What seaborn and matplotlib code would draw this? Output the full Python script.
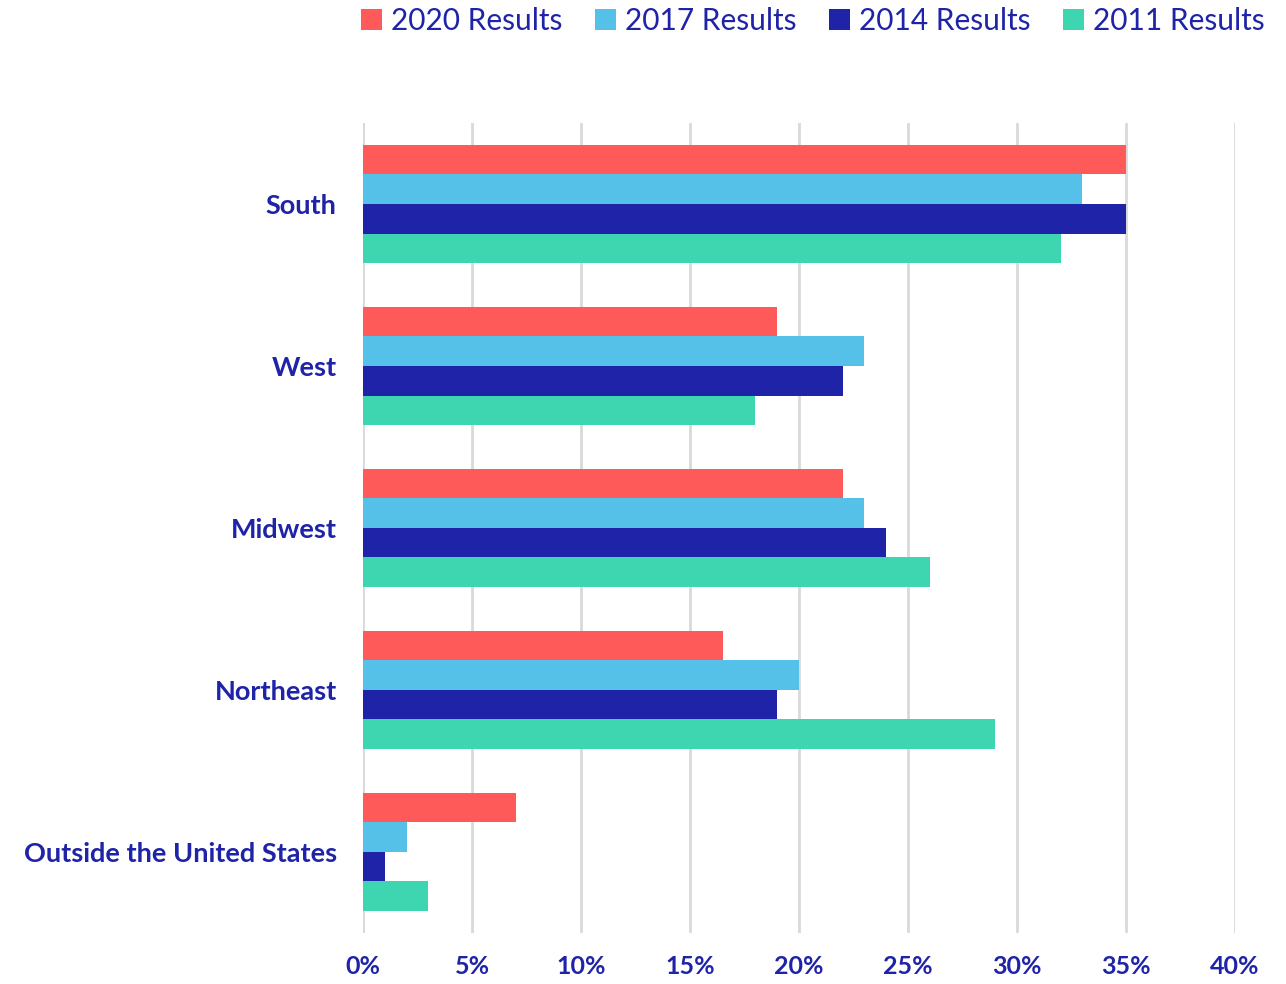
import matplotlib.pyplot as plt
import matplotlib.ticker as mtick
import pandas as pd
import seaborn as sns

regions = ['South', 'West', 'Midwest', 'Northeast', 'Outside the United States']
years = ['2020 Results', '2017 Results', '2014 Results', '2011 Results']
results_2020 = [35, 19, 22, 16.5, 7]
results_2017 = [33, 23, 23, 20, 2]
results_2014 = [35, 22, 24, 19, 1]
results_2011 = [32, 18, 26, 29, 3]

bar_colors = ['#ff5a5a', '#56c1e8', '#1f23a8', '#3dd6b0']
text_color = '#1f23a8'

rows = []
for year, vals in zip(years, [results_2020, results_2017, results_2014, results_2011]):
    for reg, v in zip(regions, vals):
        rows.append({'Region': reg, 'Year': year, 'Share': v})
df = pd.DataFrame(rows)

sns.set_theme(style='white')
plt.rcParams['font.family'] = ['Lato', 'DejaVu Sans']

fig, ax = plt.subplots(figsize=(12.86, 9.84), dpi=100)
fig.subplots_adjust(left=0.2823, right=0.9603, top=0.875, bottom=0.052)

sns.barplot(data=df, y='Region', x='Share', hue='Year', order=regions,
            hue_order=years, palette=bar_colors, orient='h', width=0.73,
            saturation=1, linewidth=0, ax=ax)

ax.set_xlim(0, 40)
ax.set_xticks(range(0, 41, 5))
ax.xaxis.set_major_formatter(mtick.FuncFormatter(lambda v, p: f'{int(v)}%'))
ax.set_xlabel(None)
ax.set_ylabel(None)
ax.grid(axis='x', color='#d9d9d9', linewidth=2)
ax.set_axisbelow(True)
for s in ax.spines.values():
    s.set_visible(False)
ax.tick_params(axis='x', length=0, labelsize=18, labelcolor=text_color, pad=16)
ax.tick_params(axis='y', length=0, labelsize=19.5, labelcolor=text_color, pad=19)
for lbl in ax.get_xticklabels() + ax.get_yticklabels():
    lbl.set_fontweight('bold')

leg = ax.legend(loc='upper right', bbox_to_anchor=(1.048, 1.158), ncol=4,
                frameon=False, fontsize=21.5, handlelength=0.7, handleheight=0.7,
                handletextpad=0.3, columnspacing=1.1, borderaxespad=0)
for t in leg.get_texts():
    t.set_color(text_color)

fig.savefig('out.png', dpi=100)
